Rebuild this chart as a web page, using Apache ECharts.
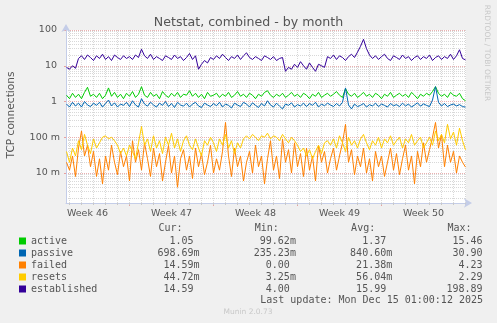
<!DOCTYPE html>
<html>
<head>
<meta charset="utf-8">
<script src="https://cdn.jsdelivr.net/npm/echarts@6/dist/echarts.min.js"></script>
<style>
  html, body { margin: 0; padding: 0; background: #f0f0f0; }
  #chart { width: 497px; height: 323px; }
</style>
</head>
<body>
<div id="chart"></div>
<script>
// Netstat, combined - by month: one sample every 6 hours
const seriesNames  = ['active', 'passive', 'failed', 'resets', 'established'];
const seriesColors = ['#00cc00', '#0066b3', '#ff8000', '#ffcc00', '#330099'];
const firstSample = Date.UTC(2025, 10, 11, 18);
const stepHours = 6;

const active = [
  1.5, 1.2, 1.7, 1.3, 1.6, 1.2, 1.8, 2.5, 1.4, 1.6,
  1.3, 1.7, 1.2, 1.5, 2.4, 1.4, 1.8, 1.3, 1.6, 1.2,
  1.7, 1.4, 1.9, 1.3, 1.6, 2.6, 1.5, 1.3, 1.8, 1.4,
  1.6, 1.2, 1.9, 1.5, 1.3, 1.7, 1.4, 1.8, 1.3, 1.6,
  1.5, 2.0, 1.4, 1.7, 1.3, 1.6, 1.2, 1.8, 1.4, 1.5,
  1.7, 1.3, 1.6, 1.4, 1.8, 1.3, 1.5, 1.9, 1.4, 1.6,
  1.3, 1.7, 1.5, 1.2, 1.6, 1.4, 1.8, 2.0, 1.5, 1.3,
  1.6, 1.4, 1.7, 1.3, 1.5, 1.8, 1.4, 1.6, 1.3, 1.7,
  1.5, 1.2, 1.6, 1.4, 1.8, 1.3, 1.5, 1.7, 1.4, 1.6,
  1.9, 1.5, 1.3, 2.3, 1.6, 1.4, 1.7, 1.3, 1.5, 1.8,
  1.4, 1.6, 1.3, 1.7, 1.5, 1.2, 1.6, 1.4, 1.8, 1.3,
  1.5, 1.7, 1.4, 1.6, 1.3, 1.8, 1.5, 1.2, 1.6, 1.4,
  1.7, 1.5, 1.9, 2.6, 1.7, 1.4, 1.6, 1.3, 1.8, 1.5,
  1.4, 1.7, 1.2, 1.05
];
const passive = [
  0.85, 0.7, 0.95, 0.75, 0.9, 0.7, 1.0, 0.8, 0.72, 0.9,
  0.78, 0.95, 0.7, 0.88, 1.1, 0.75, 0.92, 0.7, 0.85, 0.78,
  0.95, 0.72, 1.05, 0.8, 0.7, 1.2, 0.85, 0.74, 0.96, 0.8,
  0.7, 0.9, 0.78, 1.0, 0.72, 0.88, 0.68, 0.95, 0.8, 0.74,
  0.9, 0.7, 0.85, 0.95, 0.75, 0.68, 0.9, 0.8, 0.72, 0.88,
  0.76, 0.95, 0.7, 0.85, 0.78, 0.66, 0.9, 0.8, 0.72, 0.95,
  0.85, 0.7, 0.92, 0.78, 0.68, 0.88, 0.75, 1.05, 0.8, 0.7,
  0.9, 0.74, 0.62, 0.85, 0.78, 0.92, 0.7, 0.82, 0.75, 0.9,
  0.72, 0.88, 0.78, 0.95, 0.7, 0.85, 0.76, 0.9, 0.8, 0.72,
  0.88, 0.75, 0.95, 2.4, 0.8, 0.62, 0.85, 0.72, 0.78, 0.88,
  0.7, 0.82, 0.75, 0.9, 0.72, 0.85, 0.78, 0.7, 0.88, 0.76,
  0.82, 0.72, 0.9, 0.75, 0.85, 0.7, 0.8, 0.92, 0.74, 0.86,
  0.78, 0.72, 1.1, 2.6, 0.95, 0.75, 0.88, 0.72, 0.8, 0.85,
  0.75, 0.82, 0.72, 0.699
];
const failed = [
  0.02, 0.012, 0.03, 0.008, 0.05, 0.15, 0.03, 0.06, 0.015, 0.04,
  0.008, 0.025, 0.005, 0.03, 0.012, 0.06, 0.02, 0.009, 0.04, 0.015,
  0.03, 0.006, 0.08, 0.02, 0.045, 0.012, 0.07, 0.025, 0.008, 0.05,
  0.015, 0.035, 0.006, 0.02, 0.06, 0.01, 0.03, 0.004, 0.025, 0.045,
  0.012, 0.03, 0.007, 0.05, 0.015, 0.035, 0.009, 0.02, 0.06, 0.01,
  0.025, 0.012, 0.04, 0.26, 0.03, 0.008, 0.05, 0.015, 0.03, 0.006,
  0.02, 0.04, 0.01, 0.06, 0.015, 0.03, 0.005, 0.025, 0.08, 0.012,
  0.03, 0.007, 0.09, 0.02, 0.045, 0.01, 0.07, 0.015, 0.035, 0.008,
  0.05, 0.012, 0.03, 0.006, 0.06, 0.02, 0.04, 0.01, 0.025, 0.05,
  0.012, 0.03, 0.07, 0.23, 0.02, 0.045, 0.009, 0.03, 0.015, 0.05,
  0.01, 0.025, 0.006, 0.04, 0.015, 0.03, 0.008, 0.02, 0.05, 0.012,
  0.035, 0.009, 0.025, 0.06, 0.012, 0.03, 0.005, 0.04, 0.015, 0.07,
  0.02, 0.045, 0.1, 0.26, 0.05, 0.12, 0.015, 0.06, 0.02, 0.04,
  0.01, 0.03, 0.02, 0.0146
];
const resets = [
  0.04, 0.02, 0.05, 0.03, 0.08, 0.045, 0.12, 0.06, 0.035, 0.09,
  0.05, 0.07, 0.1, 0.11, 0.09, 0.1, 0.08, 0.06, 0.035, 0.05,
  0.03, 0.06, 0.04, 0.025, 0.07, 0.2, 0.06, 0.09, 0.04, 0.11,
  0.05, 0.08, 0.035, 0.1, 0.06, 0.13, 0.05, 0.09, 0.04, 0.08,
  0.11, 0.06, 0.045, 0.09, 0.05, 0.03, 0.08, 0.06, 0.1, 0.07,
  0.04, 0.09, 0.06, 0.12, 0.05, 0.08, 0.035, 0.07, 0.05, 0.09,
  0.11, 0.09, 0.12, 0.1, 0.08, 0.11, 0.1, 0.13, 0.09, 0.11,
  0.1, 0.08, 0.12, 0.09, 0.07, 0.1, 0.08, 0.06, 0.04, 0.05,
  0.03, 0.045, 0.025, 0.04, 0.06, 0.035, 0.07, 0.08, 0.06, 0.09,
  0.05, 0.11, 0.07, 0.04, 0.1, 0.06, 0.08, 0.05, 0.09, 0.12,
  0.07, 0.045, 0.08, 0.06, 0.1, 0.05, 0.09, 0.07, 0.11, 0.06,
  0.08, 0.1, 0.05, 0.09, 0.07, 0.12, 0.06, 0.08, 0.1, 0.05,
  0.07, 0.1, 0.06, 0.15, 0.08, 0.12, 0.07, 0.23, 0.09, 0.14,
  0.06, 0.18, 0.08, 0.0447
];
const established = [
  9, 8, 10, 8.5, 16, 19, 15, 20, 17, 14,
  19, 16, 21, 15, 18, 14, 20, 17, 15, 19,
  16, 18, 15, 20, 17, 29, 19, 16, 21, 15,
  18, 16, 14, 19, 17, 15, 20, 16, 18, 14,
  17, 22, 15, 19, 8, 11, 14, 12, 17, 15,
  19, 16, 21, 17, 14, 18, 16, 20, 15, 19,
  23, 17, 15, 18, 16, 14, 19, 17, 15, 18,
  14, 16, 17, 7, 9, 8, 11, 9, 13, 10,
  8, 12, 9, 7, 11, 10, 9, 18, 16, 20,
  15, 19, 17, 14, 18, 21, 17, 24, 35, 55,
  30, 20, 16, 19, 15, 18, 21, 16, 14, 19,
  17, 15, 20, 16, 18, 14, 17, 19, 15, 18,
  16, 20, 14, 17, 19, 15, 18, 16, 21, 15,
  19, 28, 16, 14.59
];
const seriesValues = [active, passive, failed, resets, established];

// Axis ranges and tick labels
const timeRange = [Date.UTC(2025, 10, 11, 17), Date.UTC(2025, 11, 15, 1)];
const valueRange = [0.00145, 100];
const yTickValues = [100, 10, 1, 0.1, 0.01];
const yTickLabels = ['100 ', '10 ', '1 ', '100 m', '10 m'];
const weekLabels  = ['Week 46', 'Week 47', 'Week 48', 'Week 49', 'Week 50'];
const weekCenters = [Date.UTC(2025, 10, 13, 12), Date.UTC(2025, 10, 20, 12), Date.UTC(2025, 10, 27, 12),
                     Date.UTC(2025, 11, 4, 12), Date.UTC(2025, 11, 11, 12)];
const weekStarts  = [Date.UTC(2025, 10, 17), Date.UTC(2025, 10, 24), Date.UTC(2025, 11, 1),
                     Date.UTC(2025, 11, 8), Date.UTC(2025, 11, 15)];

// Legend statistics
const statCur = ['1.05', '698.69m', '14.59m', '44.72m', '14.59'];
const statMin = ['99.62m', '235.23m', '0.00', '3.25m', '4.00'];
const statAvg = ['1.37', '840.60m', '21.38m', '56.04m', '15.99'];
const statMax = ['15.46', '30.90', '4.23', '2.29', '198.89'];
const lastUpdate = 'Last update: Mon Dec 15 01:00:12 2025';

const lg = Math.log10;
const withUnit = s => /[a-z]$/i.test(s) ? s : s + ' ';
function padTo(row, col, cell) {
  const c = withUnit(cell);
  return row + ' '.repeat(Math.max(1, col - row.length - c.length)) + c;
}
function legendRow(name) {
  const k = seriesNames.indexOf(name);
  let row = name;
  row = padTo(row, 28, statCur[k]);
  row = padTo(row, 44, statMin[k]);
  row = padTo(row, 60, statAvg[k]);
  row = padTo(row, 76, statMax[k]);
  return row;
}
const header = ' '.repeat(22) + 'Cur:' + ' '.repeat(12) + 'Min:' + ' '.repeat(12) + 'Avg:' + ' '.repeat(12) + 'Max:';

// Grid positions: day lines (minor) and decade sub-steps (minor)
const dayLines = [];
for (let t = Date.UTC(2025, 10, 12); t <= timeRange[1]; t += 86400e3) dayLines.push(t);
const minorLogs = [];
for (let e = -3; e <= 1; e++) for (let m = 2; m <= 9; m++) {
  const v = lg(m * Math.pow(10, e));
  if (v >= lg(valueRange[0]) && v <= lg(valueRange[1])) minorLogs.push(v);
}
const majorLogs = yTickValues.map(lg);

const sans = 'DejaVu Sans';
const mono = 'DejaVu Sans Mono';
const axisBlue = '#c4cde8';

const chart = echarts.init(document.getElementById('chart'), null, { renderer: 'canvas' });
chart.setOption({
  backgroundColor: '#f0f0f0',
  animation: false,
  title: {
    text: 'Netstat, combined - by month',
    left: 'center', top: 11,
    textStyle: { fontFamily: sans, fontSize: 12.6, fontWeight: 'normal', color: '#555' }
  },
  grid: {
    left: 66, right: 31, top: 30, bottom: 120,
    show: true, backgroundColor: '#ffffff', borderWidth: 0
  },
  xAxis: [
    {
      type: 'value', min: timeRange[0], max: timeRange[1], position: 'bottom',
      axisLine: { show: true, onZero: false, lineStyle: { color: axisBlue, width: 1 }, symbol: ['none', 'arrow'], symbolSize: [7, 8], symbolOffset: [0, 6] },
      axisTick: { show: true, length: 3, customValues: weekStarts, lineStyle: { color: '#e8a0a0' } },
      axisLabel: {
        customValues: weekCenters, margin: 6,
        fontFamily: sans, fontSize: 9.5, color: '#555',
        formatter: v => weekLabels[weekCenters.indexOf(+v)] || ''
      },
      splitLine: { show: true, lineStyle: { color: '#eab0b0', type: [1, 1], width: 1 } }
    },
    {
      type: 'value', min: timeRange[0], max: timeRange[1], position: 'bottom',
      axisLine: { show: false, onZero: false },
      axisTick: { show: true, length: 2, customValues: dayLines, lineStyle: { color: '#c8c8c8' } },
      axisLabel: { show: false },
      splitLine: { show: true, lineStyle: { color: '#d8d8d8', type: [1, 1], width: 1 } }
    }
  ],
  yAxis: [
    {
      type: 'value', min: lg(valueRange[0]), max: lg(valueRange[1]),
      axisLine: { show: true, onZero: false, lineStyle: { color: axisBlue, width: 1 }, symbol: ['none', 'arrow'], symbolSize: [7, 8], symbolOffset: [0, 6] },
      axisTick: { show: true, length: 2, customValues: majorLogs, lineStyle: { color: '#e8a0a0' } },
      axisLabel: {
        customValues: majorLogs, margin: 6,
        fontFamily: sans, fontSize: 9.5, color: '#555',
        formatter: v => {
          const k = majorLogs.findIndex(m => Math.abs(m - v) < 1e-6);
          return k >= 0 ? yTickLabels[k] : '';
        }
      },
      splitLine: { show: true, lineStyle: { color: '#eab0b0', type: [1, 1], width: 1 } }
    },
    {
      type: 'value', min: lg(valueRange[0]), max: lg(valueRange[1]), position: 'left',
      axisLine: { show: false, onZero: false },
      axisTick: { show: false, customValues: minorLogs },
      axisLabel: { show: false },
      splitLine: { show: true, lineStyle: { color: '#d8d8d8', type: [1, 1], width: 1 } }
    }
  ],
  legend: {
    orient: 'vertical', left: 14, top: 230,
    itemWidth: 7, itemHeight: 7, itemGap: 0, icon: 'rect',
    selectedMode: false,
    data: seriesNames,
    textStyle: { fontFamily: mono, fontSize: 10, color: '#555', lineHeight: 12 },
    formatter: legendRow
  },
  series: seriesNames.map((name, k) => ({
    name, type: 'line', xAxisIndex: 0, yAxisIndex: 0,
    showSymbol: false, symbol: 'none',
    color: seriesColors[k],
    lineStyle: { width: 1, color: seriesColors[k] },
    data: seriesValues[k].map((v, i) => [firstSample + i * stepHours * 3600e3, lg(v)])
  })),
  graphic: [
    { type: 'text', x: 11, y: 115, rotation: Math.PI / 2,
      style: { text: 'TCP connections', font: `10.6px "${sans}"`, fill: '#555', align: 'center', verticalAlign: 'middle' } },
    { type: 'text', x: 26, y: 228,
      style: { text: header, font: `10px "${mono}"`, fill: '#555', align: 'left', verticalAlign: 'middle' } },
    { type: 'text', x: 483, y: 300,
      style: { text: lastUpdate, font: `10px "${mono}"`, fill: '#555', align: 'right', verticalAlign: 'middle' } },
    { type: 'text', x: 248, y: 312,
      style: { text: 'Munin 2.0.73', font: `7.5px "${sans}"`, fill: '#c8c8c8', align: 'center', verticalAlign: 'middle' } },
    { type: 'text', x: 487, y: 53, rotation: -Math.PI / 2,
      style: { text: 'RRDTOOL / TOBI OETIKER', font: `7.5px "${sans}"`, fill: '#c8c8c8', align: 'center', verticalAlign: 'middle' } }
  ]
});
</script>
</body>
</html>
